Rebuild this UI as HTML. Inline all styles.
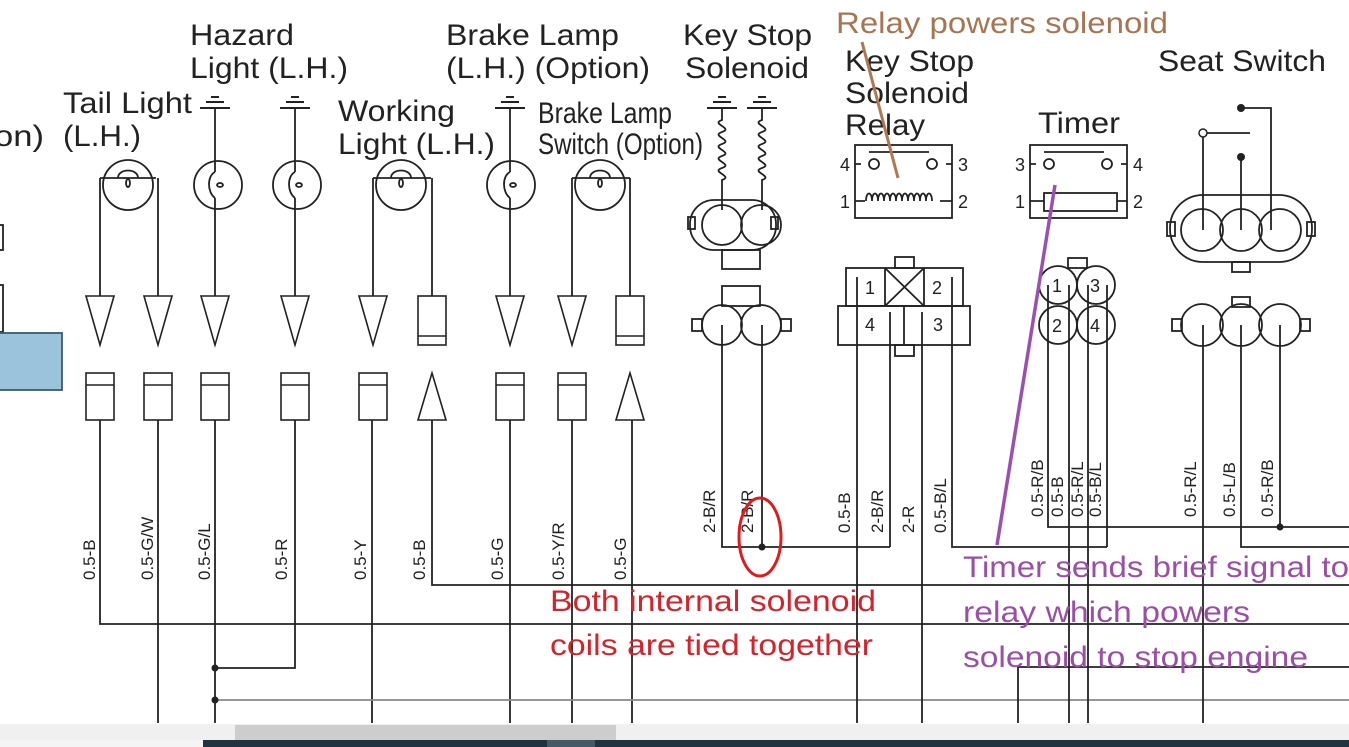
<!DOCTYPE html>
<html><head><meta charset="utf-8"><style>
html,body{margin:0;padding:0;background:#fff;}
svg{display:block;font-family:"Liberation Sans",sans-serif;}
</style></head><body>
<svg width="1349" height="747" viewBox="0 0 1349 747" xmlns="http://www.w3.org/2000/svg">
<rect width="1349" height="747" fill="#fff"/>
<g fill="#222" font-size="30">
<text x="190" y="45" textLength="104" lengthAdjust="spacingAndGlyphs">Hazard</text>
<text x="190" y="78" textLength="158" lengthAdjust="spacingAndGlyphs">Light (L.H.)</text>
<text x="63" y="113" textLength="129" lengthAdjust="spacingAndGlyphs">Tail Light</text>
<text x="63" y="146" textLength="78" lengthAdjust="spacingAndGlyphs">(L.H.)</text>
<text x="-6" y="146" textLength="50" lengthAdjust="spacingAndGlyphs">on)</text>
<text x="338" y="121" textLength="117" lengthAdjust="spacingAndGlyphs">Working</text>
<text x="338" y="154" textLength="157" lengthAdjust="spacingAndGlyphs">Light (L.H.)</text>
<text x="446" y="45" textLength="173" lengthAdjust="spacingAndGlyphs">Brake Lamp</text>
<text x="446" y="78" textLength="204" lengthAdjust="spacingAndGlyphs">(L.H.) (Option)</text>
<text x="538" y="123" textLength="134" lengthAdjust="spacingAndGlyphs">Brake Lamp</text>
<text x="538" y="154" textLength="165" lengthAdjust="spacingAndGlyphs">Switch (Option)</text>
<text x="683" y="45" textLength="129" lengthAdjust="spacingAndGlyphs">Key Stop</text>
<text x="685" y="78" textLength="124" lengthAdjust="spacingAndGlyphs">Solenoid</text>
<text x="845" y="71" textLength="129" lengthAdjust="spacingAndGlyphs">Key Stop</text>
<text x="845" y="103" textLength="124" lengthAdjust="spacingAndGlyphs">Solenoid</text>
<text x="845" y="135" textLength="80" lengthAdjust="spacingAndGlyphs">Relay</text>
<text x="1038" y="133" textLength="82" lengthAdjust="spacingAndGlyphs">Timer</text>
<text x="1158" y="71" textLength="168" lengthAdjust="spacingAndGlyphs">Seat Switch</text>
</g>
<g stroke="#222" stroke-width="1.8" fill="none">
<rect x="-5" y="225" width="8" height="25"/>
<rect x="-5" y="285" width="8" height="47"/>
<rect x="-2" y="333" width="64" height="57" fill="#9cc3dc" stroke="#3a5a70"/>
<g stroke-width="2">
<path d="M200 108h30M206 102h18M211 97h8"/>
<path d="M280 108h30M286 102h18M291 97h8"/>
<path d="M495 108h30M501 102h18M506 97h8"/>
<path d="M707 108h30M713 102h18M718 97h8"/>
<path d="M747 108h30M753 102h18M758 97h8"/>
</g>
<circle cx="128" cy="185" r="25"/><path d="M100 178h56M118 178c0-10 20-10 20 0"/><ellipse cx="128" cy="183" rx="2" ry="4"/>
<circle cx="218" cy="185" r="24"/><path d="M215 172c-8 4-8 20 0 26"/><ellipse cx="220" cy="185" rx="3" ry="2"/>
<circle cx="297" cy="185" r="24"/><path d="M295 172c-8 4-8 20 0 26"/><ellipse cx="299" cy="185" rx="3" ry="2"/>
<circle cx="401" cy="185" r="25"/><path d="M373 178h58M391 178c0-10 20-10 20 0"/><ellipse cx="401" cy="183" rx="2" ry="4"/>
<circle cx="511" cy="185" r="24"/><path d="M510 172c-8 4-8 20 0 26"/><ellipse cx="513" cy="185" rx="3" ry="2"/>
<circle cx="600" cy="185" r="25"/><path d="M572 178h58M590 178c0-10 20-10 20 0"/><ellipse cx="600" cy="183" rx="2" ry="4"/>
<path d="M100 178V296M158 178V296M215 108V172M215 198V296M295 108V172M295 198V296M373 178V296M432 178V296M510 108V172M510 198V296M572 178V296M630 178V296"/>
<g stroke-width="1.6">
<path d="M86 296h28l-14 49zM144 296h28l-14 49zM201 296h28l-14 49zM281 296h28l-14 49zM359 296h28l-14 49zM496 296h28l-14 49zM558 296h28l-14 49z"/>
<rect x="418" y="296" width="28" height="49"/><path d="M418 336h28"/>
<rect x="616" y="296" width="28" height="49"/><path d="M616 336h28"/>
<rect x="86" y="373" width="28" height="47"/><path d="M86 385h28"/>
<rect x="144" y="373" width="28" height="47"/><path d="M144 385h28"/>
<rect x="201" y="373" width="28" height="47"/><path d="M201 385h28"/>
<rect x="281" y="373" width="28" height="47"/><path d="M281 385h28"/>
<rect x="359" y="373" width="28" height="47"/><path d="M359 385h28"/>
<rect x="496" y="373" width="28" height="47"/><path d="M496 385h28"/>
<rect x="558" y="373" width="28" height="47"/><path d="M558 385h28"/>
<path d="M418 420h28l-14-47zM616 420h28l-14-47z"/>
</g>
<path d="M100 420V624H1349M158 420V723M215 420V723M295 420V668H215M372 420V723M432 420V585H1349M510 420V723M572 420V723M632 420V723"/>
<path d="M215 700H1349" stroke="#888"/>
<path d="M722 108v12c-12 4 12 8 0 12s12 8 0 12 12 8 0 12 12 8 0 12 12 8 0 12v30"/>
<path d="M762 108v12c-12 4 12 8 0 12s12 8 0 12 12 8 0 12 12 8 0 12 12 8 0 12v30"/>
<rect x="690" y="200" width="86" height="50" rx="24"/>
<circle cx="722" cy="225" r="20"/><circle cx="761" cy="225" r="20"/>
<rect x="688" y="217" width="7" height="12"/><rect x="771" y="217" width="7" height="12"/>
<rect x="722" y="250" width="38" height="19"/>
<rect x="722" y="286" width="38" height="20"/>
<circle cx="722" cy="325" r="20"/><circle cx="761" cy="325" r="20"/>
<rect x="692" y="319" width="10" height="12"/><rect x="781" y="319" width="10" height="12"/>
<path d="M722 325V547H890M762 325V547"/>
<rect x="855" y="145" width="97" height="73"/>
<path d="M869 152h60M855 164h6M946 164h6M855 201h10M940 201h12"/>
<circle cx="874" cy="164" r="5"/><circle cx="932" cy="164" r="5"/>
<path d="M866 201c0-10 6-10 6 0 0-10 6-10 6 0 0-10 6-10 6 0 0-10 6-10 6 0 0-10 6-10 6 0 0-10 6-10 6 0 0-10 6-10 6 0 0-10 6-10 6 0 0-10 6-10 6 0 0-10 6-10 6 0 0-10 6-10 6 0"/>
<rect x="895" y="257" width="19" height="11"/>
<rect x="846" y="268" width="117" height="38"/>
<path d="M885 268v38M924 268v38M885 268l39 38M924 268l-39 38"/>
<rect x="838" y="306" width="132" height="39"/><path d="M904 306v39"/>
<rect x="895" y="345" width="19" height="11"/>
<path d="M857 277V723M890 312V547M922 312V723M952 277V547H1107"/>
<rect x="1030" y="145" width="97" height="73"/>
<path d="M1044 152h60M1030 164h6M1121 164h6M1030 201h14M1117 201h10"/>
<circle cx="1049" cy="164" r="5"/><circle cx="1107" cy="164" r="5"/>
<rect x="1044" y="193" width="73" height="18"/>
<rect x="1068" y="258" width="19" height="10"/>
<circle cx="1058" cy="285" r="19"/><circle cx="1096" cy="285" r="19"/>
<circle cx="1058" cy="325" r="19"/><circle cx="1096" cy="325" r="19"/>
<path d="M1048 285V527H1349M1069 285V723M1088 285V723M1107 285V547"/>
<path d="M1018 723V667H1349"/>
<path d="M1203 133h47M1241 108h30V230M1241 157V230M1203 133V230"/>
<rect x="1170" y="195" width="142" height="67" rx="33"/>
<circle cx="1202" cy="230" r="21"/><circle cx="1241" cy="230" r="21"/><circle cx="1280" cy="230" r="21"/>
<rect x="1167" y="222" width="8" height="14"/><rect x="1307" y="222" width="8" height="14"/>
<rect x="1232" y="262" width="18" height="10"/>
<rect x="1232" y="297" width="18" height="10"/>
<circle cx="1202" cy="325" r="21"/><circle cx="1241" cy="325" r="21"/><circle cx="1280" cy="325" r="21"/>
<rect x="1172" y="319" width="10" height="12"/><rect x="1300" y="319" width="10" height="12"/>
<path d="M1203 325V723M1241 325V547H1349M1280 325V527"/>
</g>
<g fill="#222">
<circle cx="1241" cy="108" r="4"/><circle cx="1241" cy="157" r="4"/>
<circle cx="1203" cy="133" r="4" fill="#fff" stroke="#222" stroke-width="1.5"/>
<circle cx="762" cy="547" r="3.5"/><circle cx="1280" cy="527" r="3.5"/>
<circle cx="215" cy="668" r="3.5"/><circle cx="215" cy="700" r="3.5"/>
</g>
<g fill="#222" font-size="18">
<text x="840" y="171">4</text><text x="958" y="171">3</text>
<text x="840" y="208">1</text><text x="958" y="208">2</text>
<text x="1015" y="171">3</text><text x="1133" y="171">4</text>
<text x="1015" y="208">1</text><text x="1133" y="208">2</text>
<text x="865" y="294">1</text><text x="932" y="294">2</text>
<text x="865" y="331">4</text><text x="933" y="331">3</text>
<text x="1052" y="292">1</text><text x="1090" y="292">3</text>
<text x="1052" y="332">2</text><text x="1090" y="332">4</text>
</g>
<g fill="#222" font-size="17">
<text transform="translate(95,580) rotate(-90)">0.5-B</text>
<text transform="translate(153,580) rotate(-90)">0.5-G/W</text>
<text transform="translate(210,580) rotate(-90)">0.5-G/L</text>
<text transform="translate(287,580) rotate(-90)">0.5-R</text>
<text transform="translate(366,580) rotate(-90)">0.5-Y</text>
<text transform="translate(425,580) rotate(-90)">0.5-B</text>
<text transform="translate(503,580) rotate(-90)">0.5-G</text>
<text transform="translate(564,580) rotate(-90)">0.5-Y/R</text>
<text transform="translate(626,580) rotate(-90)">0.5-G</text>
<text transform="translate(715,533) rotate(-90)">2-B/R</text>
<text transform="translate(753,533) rotate(-90)">2-B/R</text>
<text transform="translate(850,533) rotate(-90)">0.5-B</text>
<text transform="translate(883,533) rotate(-90)">2-B/R</text>
<text transform="translate(914,533) rotate(-90)">2-R</text>
<text transform="translate(946,533) rotate(-90)">0.5-B/L</text>
<text transform="translate(1043,517) rotate(-90)">0.5-R/B</text>
<text transform="translate(1063,517) rotate(-90)">0.5-B</text>
<text transform="translate(1083,517) rotate(-90)">0.5-R/L</text>
<text transform="translate(1101,517) rotate(-90)">0.5-B/L</text>
<text transform="translate(1196,517) rotate(-90)">0.5-R/L</text>
<text transform="translate(1235,517) rotate(-90)">0.5-L/B</text>
<text transform="translate(1273,517) rotate(-90)">0.5-R/B</text>
</g>
<path d="M862 42L898 178" stroke="#b07850" stroke-width="3"/>
<path d="M1055 185L997 545" stroke="#9b4fb0" stroke-width="3.5"/>
<ellipse cx="760" cy="537" rx="21" ry="39" fill="none" stroke="#e01b1b" stroke-width="3"/>
<g font-size="30">
<text x="836" y="33" fill="#a87552" textLength="332" lengthAdjust="spacingAndGlyphs">Relay powers solenoid</text>
<text x="550" y="611" fill="#d6222a" textLength="326" lengthAdjust="spacingAndGlyphs">Both internal solenoid</text>
<text x="550" y="655" fill="#d6222a" textLength="323" lengthAdjust="spacingAndGlyphs">coils are tied together</text>
<text x="963" y="577" fill="#9a4ea6" textLength="386" lengthAdjust="spacingAndGlyphs">Timer sends brief signal to</text>
<text x="963" y="622" fill="#9a4ea6" textLength="287" lengthAdjust="spacingAndGlyphs">relay which powers</text>
<text x="963" y="667" fill="#9a4ea6" textLength="345" lengthAdjust="spacingAndGlyphs">solenoid to stop engine</text>
</g>
<rect x="0" y="724" width="1349" height="16" fill="#f0f0f0"/>
<rect x="235" y="725" width="381" height="15" fill="#cdcdcd"/>
<rect x="0" y="740" width="1349" height="7" fill="#f4f4f4"/>
<rect x="203" y="740" width="1146" height="7" fill="#1f3440"/>
<rect x="547" y="740" width="48" height="7" fill="#445a66"/>
</svg>
</body></html>
